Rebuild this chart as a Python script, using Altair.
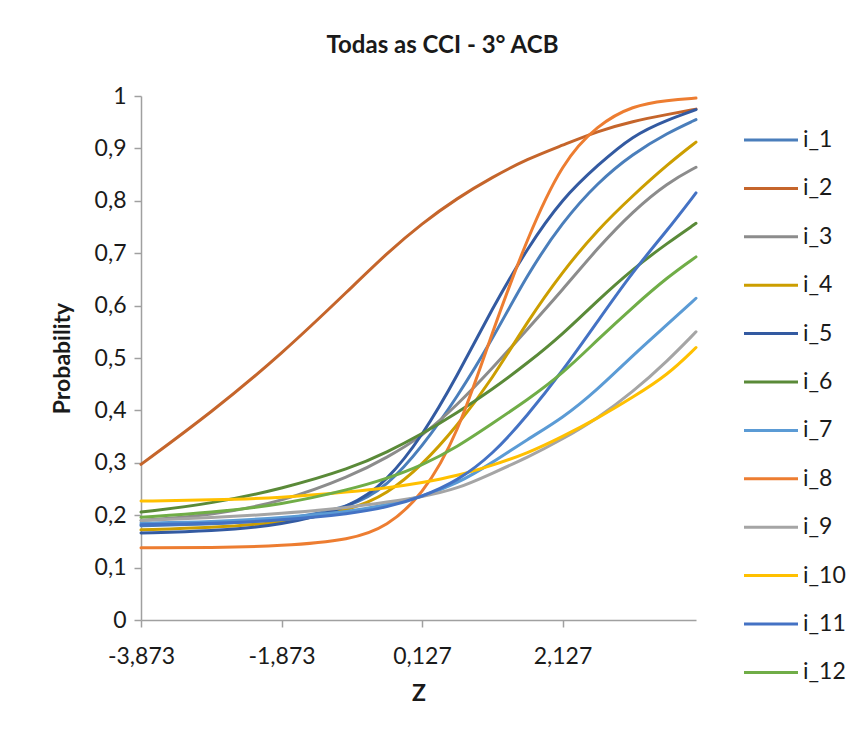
import altair as alt
import pandas as pd

# Z grid (category positions)
z = [-3.873, -2.873, -1.873, -0.873, -0.373, 0.127, 0.627, 1.127, 1.627, 2.127, 2.627, 3.127, 3.627, 4.027]

i_1 = [0.180, 0.183, 0.190, 0.215, 0.255, 0.330, 0.425, 0.535, 0.660, 0.760, 0.835, 0.890, 0.930, 0.955]
i_2 = [0.297, 0.396, 0.507, 0.635, 0.700, 0.757, 0.805, 0.845, 0.880, 0.906, 0.933, 0.952, 0.965, 0.975]
i_3 = [0.190, 0.200, 0.225, 0.275, 0.310, 0.350, 0.410, 0.480, 0.555, 0.630, 0.710, 0.780, 0.835, 0.864]
i_4 = [0.172, 0.176, 0.185, 0.210, 0.240, 0.295, 0.370, 0.460, 0.570, 0.665, 0.745, 0.810, 0.870, 0.912]
i_5 = [0.166, 0.170, 0.180, 0.215, 0.265, 0.350, 0.465, 0.595, 0.710, 0.805, 0.868, 0.925, 0.955, 0.974]
i_6 = [0.206, 0.222, 0.250, 0.290, 0.320, 0.355, 0.395, 0.440, 0.490, 0.545, 0.610, 0.670, 0.720, 0.757]
i_7 = [0.185, 0.187, 0.195, 0.207, 0.220, 0.235, 0.260, 0.300, 0.345, 0.385, 0.440, 0.505, 0.565, 0.614]
i_8 = [0.138, 0.138, 0.141, 0.153, 0.178, 0.237, 0.350, 0.550, 0.730, 0.875, 0.945, 0.982, 0.992, 0.996]
i_9 = [0.190, 0.195, 0.203, 0.215, 0.225, 0.235, 0.250, 0.280, 0.310, 0.345, 0.385, 0.435, 0.495, 0.550]
i_10 = [0.227, 0.229, 0.233, 0.245, 0.252, 0.262, 0.275, 0.295, 0.318, 0.350, 0.385, 0.425, 0.468, 0.520]
i_11 = [0.182, 0.184, 0.190, 0.203, 0.215, 0.235, 0.265, 0.315, 0.390, 0.475, 0.570, 0.665, 0.745, 0.815]
i_12 = [0.196, 0.205, 0.220, 0.250, 0.270, 0.295, 0.330, 0.375, 0.420, 0.470, 0.535, 0.597, 0.655, 0.693]

series_names = ["i_1", "i_2", "i_3", "i_4", "i_5", "i_6", "i_7", "i_8", "i_9", "i_10", "i_11", "i_12"]
series_values = [i_1, i_2, i_3, i_4, i_5, i_6, i_7, i_8, i_9, i_10, i_11, i_12]
colors = ["#4A7EBB", "#C5652B", "#8C8C8C", "#CC9E00", "#335AA1", "#5A8A38",
          "#5B9BD5", "#ED7D31", "#A5A5A5", "#FFC000", "#4472C4", "#70AD47"]

x_ticks = [-3.873, -1.873, 0.127, 2.127]
y_ticks = [0, 0.1, 0.2, 0.3, 0.4, 0.5, 0.6, 0.7, 0.8, 0.9, 1.0]

rows = []
for name, vals in zip(series_names, series_values):
    for zz, v in zip(z, vals):
        rows.append({"Z": zz, "P": v, "serie": name})
df = pd.DataFrame(rows)

FONT = "Lato"
TXT = "#1a1a1a"
AX = "#A0A0A0"

chart = alt.Chart(df).mark_line(interpolate="basis", strokeWidth=3, strokeCap="round").encode(
    x=alt.X("Z:Q",
            scale=alt.Scale(domain=[-3.873, 4.027], nice=False, zero=False),
            axis=alt.Axis(values=x_ticks,
                          labelExpr="replace(replace(format(datum.value, '.3f'), '.', ','), '\u2212', '-')",
                          title="Z", grid=False, titleX=277.5, titleY=73,
                          titleBaseline="middle", titleAlign="center", labelFlush=False,
                          labelFont=FONT, labelFontSize=23, labelColor=TXT, labelPadding=18,
                          titleFont=FONT, titleFontSize=23, titleFontWeight="bold", titleColor=TXT,
                          domainColor=AX, tickColor=AX, domainWidth=1.5, tickWidth=1.5, tickSize=7)),
    y=alt.Y("P:Q",
            scale=alt.Scale(domain=[0, 1], nice=False),
            axis=alt.Axis(values=y_ticks,
                          labelExpr="replace(format(datum.value, '.1~f'), '.', ',')",
                          title="Probability", grid=False, titleX=-79, titleY=262,
                          titleAngle=-90, titleBaseline="middle", titleAlign="center",
                          labelFont=FONT, labelFontSize=23, labelColor=TXT, labelPadding=8,
                          titleFont=FONT, titleFontSize=23, titleFontWeight="bold", titleColor=TXT,
                          domainColor=AX, tickColor=AX, domainWidth=1.5, tickWidth=1.5, tickSize=7)),
    color=alt.Color("serie:N",
                    scale=alt.Scale(domain=series_names, range=colors),
                    sort=series_names,
                    legend=alt.Legend(title=None, orient="none", legendX=606, legendY=20,
                                      symbolType="M-1.2,0H1.2", symbolSize=2025,
                                      symbolStrokeWidth=3, rowPadding=12.4, padding=0,
                                      labelOffset=8, labelFont=FONT, labelFontSize=23,
                                      labelColor=TXT, symbolLimit=0)),
    detail="serie:N",
).properties(
    width=555, height=524,
    title=alt.TitleParams("Todas as CCI - 3° ACB", font=FONT, fontSize=24, fontWeight="bold",
                          color=TXT, anchor="middle", dx=24, offset=27),
    autosize="none",
    background="white",
    padding={"left": 133, "top": 88, "right": 150, "bottom": 100},
).configure_view(stroke=None)

chart.save("out.html", embed_options={"renderer": "svg", "actions": False})
